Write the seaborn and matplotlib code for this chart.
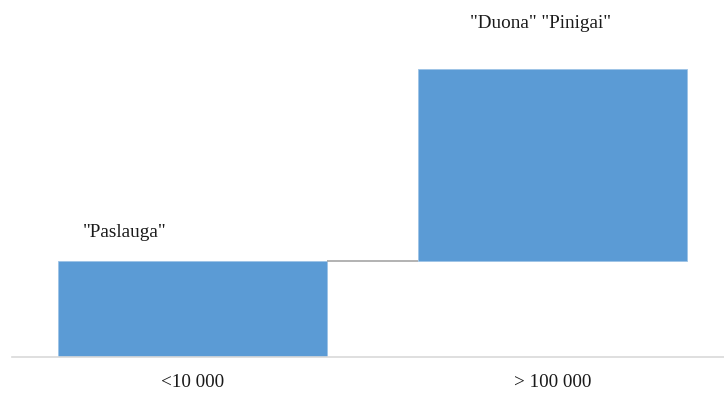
import matplotlib
matplotlib.use("Agg")
import matplotlib.pyplot as plt
import seaborn as sns
import numpy as np

categories = ["<10 000", "> 100 000"]
increments = [1.0, 2.0]
bar_labels = ['"Paslauga"', '"Duona" "Pinigai"']

sns.set_theme(style="white")
plt.rcParams['font.family'] = ['Liberation Serif', 'DejaVu Serif']

bases = np.concatenate([[0.0], np.cumsum(increments)[:-1]])
tops = bases + np.array(increments)

fig = plt.figure(figsize=(7.24, 3.93), dpi=100)
ax = fig.add_axes([12/724, 36/393, 721/724, 336/393])

width = 0.746
sns.barplot(x=categories, y=increments, bottom=bases, color="#5B9BD5",
            saturation=1, width=width, ax=ax, edgecolor="#9DC3E6", linewidth=0.6)

# connector
for i in range(len(categories) - 1):
    ax.plot([i + width/2, i + 1 - width/2], [tops[i], tops[i]], color="#A6A6A6", lw=1.2,
            solid_capstyle="butt")

ax.set_xlim(-0.5, 1.5)
ax.set_ylim(0, 3.5)
ax.set_yticks([])
ax.set_xlabel("")
ax.set_ylabel("")
for s in ["top", "right", "left"]:
    ax.spines[s].set_visible(False)
ax.spines["bottom"].set_color("#D9D9D9")
ax.spines["bottom"].set_linewidth(1.2)
ax.tick_params(axis="x", length=0, pad=12, labelsize=13.8, labelcolor="#1a1a1a")

label_pos = [(-0.187, 1.30), (0.967, 3.47)]
for (lx, ly), t in zip(label_pos, bar_labels):
    ax.text(lx, ly, t, ha="center", va="center", fontsize=13.8, color="#1a1a1a")

fig.savefig("out.png", dpi=100)
